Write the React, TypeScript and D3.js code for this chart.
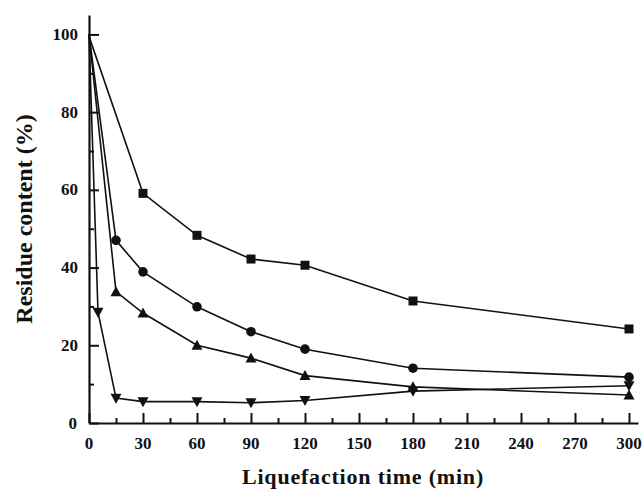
import React, { useEffect, useRef } from 'react'
import * as d3 from 'd3'

// liquefaction time (min)
const timeSquare = [0, 30, 60, 90, 120, 180, 300]
const squareValues = [99.5, 59.1, 48.3, 42.2, 40.6, 31.4, 24.2]

const timeCircle = [0, 15, 30, 60, 90, 120, 180, 300]
const circleValues = [100, 47.0, 38.9, 29.9, 23.5, 19.0, 14.1, 11.8]

const timeTriUp = [0, 15, 30, 60, 90, 120, 180, 300]
const triUpValues = [100, 33.8, 28.3, 20.0, 16.7, 12.2, 9.3, 7.2]

const timeTriDown = [0, 5, 15, 30, 60, 90, 120, 180, 300]
const triDownValues = [100, 28.5, 6.4, 5.5, 5.5, 5.2, 5.8, 8.2, 9.6]

const xTicks = [0, 30, 60, 90, 120, 150, 180, 210, 240, 270, 300]
const yTicks = [0, 20, 40, 60, 80, 100]

type Pt = { t: number; v: number }

const W = 644
const H = 491
const margin = { left: 89, right: 6, top: 15, bottom: 68 }

export default function App() {
  const ref = useRef<SVGSVGElement>(null)

  useEffect(() => {
    const svg = d3.select(ref.current)
    svg.selectAll('*').remove()

    const x = d3.scaleLinear().domain([0, 305]).range([margin.left, W - margin.right])
    const y = d3.scaleLinear().domain([0, 105]).range([H - margin.bottom, margin.top])
    const font = '"Liberation Serif", "Times New Roman", serif'

    const series: { data: Pt[]; shape: string }[] = [
      { data: timeSquare.map((t, i) => ({ t, v: squareValues[i] })), shape: 'square' },
      { data: timeCircle.map((t, i) => ({ t, v: circleValues[i] })), shape: 'circle' },
      { data: timeTriUp.map((t, i) => ({ t, v: triUpValues[i] })), shape: 'up' },
      { data: timeTriDown.map((t, i) => ({ t, v: triDownValues[i] })), shape: 'down' },
    ]

    const line = d3.line<Pt>().x(d => x(d.t)).y(d => y(d.v))

    series.forEach(s => {
      svg.append('path')
        .attr('d', line(s.data))
        .attr('fill', 'none')
        .attr('stroke', '#111')
        .attr('stroke-width', 1.6)

      const g = svg.append('g')
      // markers at t = 0 are hidden under the axis in the original
      s.data.filter(d => d.t > 0).forEach(d => {
        const cx = x(d.t)
        const cy = y(d.v)
        if (s.shape === 'square') {
          g.append('rect').attr('x', cx - 4.5).attr('y', cy - 4.5).attr('width', 9).attr('height', 9).attr('fill', '#111')
        } else if (s.shape === 'circle') {
          g.append('circle').attr('cx', cx).attr('cy', cy).attr('r', 4.8).attr('fill', '#111')
        } else if (s.shape === 'up') {
          g.append('path').attr('d', `M${cx},${cy - 5.5}L${cx + 5.5},${cy + 4.5}L${cx - 5.5},${cy + 4.5}Z`).attr('fill', '#111')
        } else {
          g.append('path').attr('d', `M${cx},${cy + 5.5}L${cx + 5.5},${cy - 4.5}L${cx - 5.5},${cy - 4.5}Z`).attr('fill', '#111')
        }
      })
    })

    // axes with inward ticks
    const xAxis = svg.append('g').attr('transform', `translate(0,${y(0)})`)
    xAxis.call(
      d3.axisBottom(x).tickValues(d3.range(0, 301, 15)).tickSize(0).tickFormat(() => '')
    )
    xAxis.select('.domain').attr('stroke', '#111').attr('stroke-width', 2.2)
    xAxis.selectAll('.tick line')
      .attr('y2', (d: any) => (d % 30 === 0 ? -10 : -5))
      .attr('stroke', '#111').attr('stroke-width', 2)
    xTicks.forEach(t => {
      svg.append('text')
        .attr('x', x(t)).attr('y', y(0) + 26)
        .attr('text-anchor', 'middle')
        .attr('font-family', font).attr('font-weight', 'bold').attr('font-size', 17)
        .attr('fill', '#111')
        .text(t)
    })

    const yAxis = svg.append('g').attr('transform', `translate(${x(0)},0)`)
    yAxis.call(
      d3.axisLeft(y).tickValues(d3.range(0, 101, 10)).tickSize(0).tickFormat(() => '')
    )
    yAxis.select('.domain').attr('stroke', '#111').attr('stroke-width', 2.2)
    yAxis.selectAll('.tick line')
      .attr('x2', (d: any) => (d % 20 === 0 ? 10 : 5))
      .attr('stroke', '#111').attr('stroke-width', 2)
    yTicks.forEach(t => {
      svg.append('text')
        .attr('x', t === 0 ? 77 : 78).attr('y', y(t) + 5.5)
        .attr('text-anchor', 'end')
        .attr('font-family', font).attr('font-weight', 'bold').attr('font-size', 17)
        .attr('fill', '#111')
        .text(t)
    })

    svg.append('text')
      .attr('x', 363).attr('y', 484)
      .attr('text-anchor', 'middle')
      .attr('font-family', font).attr('font-weight', 'bold').attr('font-size', 22)
      .attr('letter-spacing', 0.8)
      .attr('fill', '#111')
      .text('Liquefaction time (min)')

    svg.append('text')
      .attr('transform', `translate(32,219) rotate(-90)`)
      .attr('text-anchor', 'middle')
      .attr('font-family', font).attr('font-weight', 'bold').attr('font-size', 24)
      .attr('fill', '#111')
      .text('Residue content (%)')
  }, [])

  return (
    <svg ref={ref} width={W} height={H} style={{ position: 'absolute', left: 0, top: 0, background: '#fff' }} />
  )
}
